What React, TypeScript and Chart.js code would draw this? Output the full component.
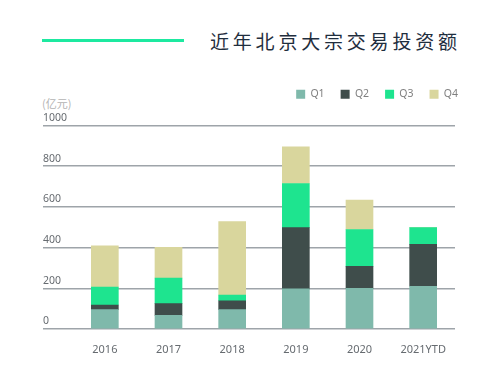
import React, { useEffect, useRef } from "react";
import { Chart, registerables } from "chart.js";

Chart.register(...registerables);

const categories = ["2016", "2017", "2018", "2019", "2020", "2021YTD"];
const q1 = [95, 67, 95, 197, 200, 210];
const q2 = [23, 58, 44, 301, 108, 206];
const q3 = [88, 125, 28, 217, 181, 82];
const q4 = [203, 151, 361, 180, 145, 0];
const seriesNames = ["Q1", "Q2", "Q3", "Q4"];
const seriesColors = ["#7fb9ab", "#3f4d4b", "#1ee48f", "#d9d69d"];
const yTicks = [0, 200, 400, 600, 800, 1000];

const LEGEND_PAD = 16;

const legendShift = {
  id: "legendShift",
  afterLayout(chart: any) {
    const lg = chart.legend;
    if (!lg) return;
    lg.left += LEGEND_PAD + 3;
    lg.right += LEGEND_PAD + 3;
    lg.top -= 16;
    lg.bottom -= 16;
  },
};

export default function App() {
  const ref = useRef<HTMLCanvasElement | null>(null);
  useEffect(() => {
    if (!ref.current) return;
    const values = [q1, q2, q3, q4];
    const chart = new Chart(ref.current, {
      type: "bar",
      data: {
        labels: categories,
        datasets: seriesNames.map((n, i) => ({
          label: n,
          data: values[i],
          backgroundColor: seriesColors[i],
          borderWidth: 0,
          barThickness: 27,
        })),
      },
      plugins: [legendShift],
      options: {
        animation: false,
        responsive: false,
        maintainAspectRatio: false,
        layout: { padding: { left: 43, right: 45, top: 89, bottom: 0 } },
        plugins: {
          tooltip: { enabled: false },
          legend: {
            position: "top",
            align: "end",
            labels: {
              boxWidth: 9,
              boxHeight: 9,
              padding: LEGEND_PAD,
              color: "#808080",
              font: { family: "'Noto Sans', sans-serif", size: 10.5 },
            },
          },
        },
        scales: {
          x: {
            stacked: true,
            grid: { display: false },
            border: { display: false },
            ticks: {
              color: "#666b70",
              padding: 6,
              font: { family: "'Noto Sans', sans-serif", size: 11 },
            },
            afterFit: (s: any) => {
              s.height = 39;
            },
          },
          y: {
            stacked: true,
            min: 0,
            max: 1000,
            afterBuildTicks: (s: any) => {
              s.ticks = yTicks.map((v) => ({ value: v }));
            },
            grid: {
              color: "#9ea4a9",
              lineWidth: 1.5,
              tickLength: 30,
              drawTicks: true,
            },
            border: { display: false },
            ticks: {
              crossAlign: "far",
              labelOffset: -7.5,
              padding: 0,
              color: "#666b70",
              font: { family: "'Noto Sans', sans-serif", size: 10.5 },
              callback: (v: any) => String(v),
            },
            afterFit: (s: any) => {
              s.width = 30;
            },
          },
        },
      },
    });
    return () => chart.destroy();
  }, []);

  return (
    <div style={{ position: "fixed", left: 0, top: 0, width: 500, height: 368, background: "#fff" }}>
      <div style={{ position: "absolute", left: 42, top: 39, width: 142, height: 2.5, background: "#1de9a0" }} />
      <div
        style={{
          position: "absolute",
          right: 43,
          top: 28,
          fontFamily: "'Noto Sans CJK SC', sans-serif",
          fontSize: 19,
          letterSpacing: 3.8,
          lineHeight: "26px",
          color: "#1f2e3e",
          whiteSpace: "nowrap",
          marginRight: -3.8,
        }}
      >
        近年北京大宗交易投资额
      </div>
      <div
        style={{
          position: "absolute",
          left: 42,
          top: 95,
          fontFamily: "'Noto Sans CJK SC', sans-serif",
          fontSize: 11,
          lineHeight: "16px",
          color: "#b4b4b4",
          whiteSpace: "nowrap",
        }}
      >
        (亿元)
      </div>
      <canvas ref={ref} width={500} height={368} style={{ position: "absolute", left: 0, top: 0 }} />
    </div>
  );
}
